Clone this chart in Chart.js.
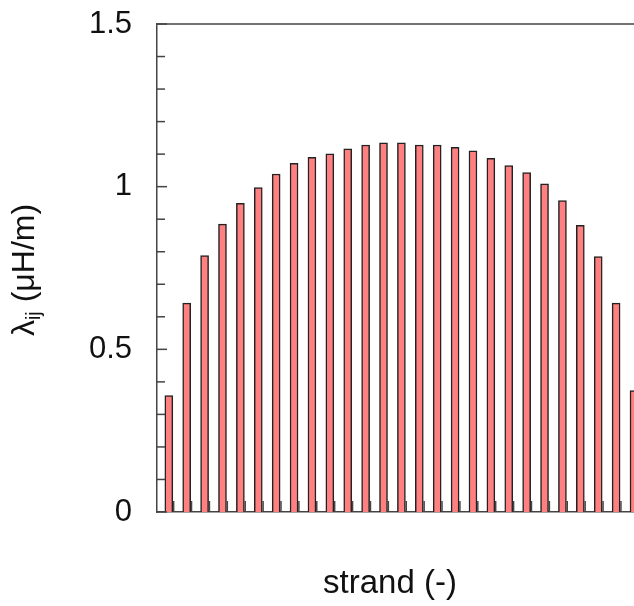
<!DOCTYPE html>
<html>
<head>
<meta charset="utf-8">
<script src="https://cdn.jsdelivr.net/npm/chart.js@4/dist/chart.umd.min.js"></script>
<style>
html,body{margin:0;padding:0;background:#fff;}
canvas{display:block;}
</style>
</head>
<body>
<canvas id="c" width="634" height="606"></canvas>
<script>
// strand index (categories)
const strands = [1,2,3,4,5,6,7,8,9,10,11,12,13,14,15,16,17,18,19,20,21,22,23,24,25,26,27];
// self inductance lambda_ij (uH/m)
const lambda = [0.358,0.642,0.788,0.885,0.949,0.997,1.039,1.072,1.090,1.101,1.116,1.128,1.135,1.135,
                1.128,1.128,1.121,1.110,1.087,1.065,1.043,1.009,0.957,0.881,0.785,0.642,0.373];
const yMajorTicks = [0, 0.5, 1, 1.5];
const yTickLabels = ['0', '0.5', '1', '1.5'];
const xTitle = 'strand (-)';
const yTitleMain = '\u03BB';
const yTitleSub = 'ij';
const yTitleRest = ' (\u03BCH/m)';

const FONT = '"Liberation Sans", Arial, sans-serif';
const AXIS = '#444';

const decor = {
  id: 'decor',
  afterDraw(chart) {
    const ctx = chart.ctx;
    const a = chart.chartArea;
    const xs = chart.scales.x, ys = chart.scales.y;
    ctx.save();
    ctx.strokeStyle = AXIS;
    ctx.lineWidth = 1.5;
    // top frame line
    ctx.beginPath();
    ctx.moveTo(a.left, a.top);
    ctx.lineTo(a.right, a.top);
    ctx.stroke();
    // y ticks (inward)
    ys.ticks.forEach(t => {
      const y = ys.getPixelForValue(t.value);
      const major = yMajorTicks.some(m => Math.abs(m - t.value) < 1e-6);
      const len = major ? 10 : 8;
      ctx.beginPath();
      ctx.moveTo(a.left, y);
      ctx.lineTo(a.left + len, y);
      ctx.stroke();
    });
    // x ticks (inward, from bottom)
    strands.forEach(n => {
      const x = xs.getPixelForValue(n + 0.27);
      ctx.beginPath();
      ctx.moveTo(x, a.bottom);
      ctx.lineTo(x, a.bottom - 11);
      ctx.stroke();
    });
    // x title
    ctx.fillStyle = '#111';
    ctx.font = '33px ' + FONT;
    ctx.textAlign = 'center';
    ctx.textBaseline = 'alphabetic';
    ctx.fillText(xTitle, 390, 593);
    // y title (rotated, with subscript)
    const mainF = '32px ' + FONT, subF = '20px ' + FONT;
    ctx.font = mainF; const w1 = ctx.measureText(yTitleMain).width;
    const w3 = ctx.measureText(yTitleRest).width;
    ctx.font = subF; const w2 = ctx.measureText(yTitleSub).width;
    const total = w1 + w2 + w3;
    ctx.translate(34, 270);
    ctx.rotate(-Math.PI / 2);
    ctx.textAlign = 'left';
    let x0 = -total / 2;
    ctx.font = mainF; ctx.fillText(yTitleMain, x0, 0); x0 += w1;
    ctx.font = subF; ctx.fillText(yTitleSub, x0, 6); x0 += w2;
    ctx.font = mainF; ctx.fillText(yTitleRest, x0, 0);
    ctx.restore();
  }
};

new Chart(document.getElementById('c'), {
  type: 'bar',
  data: {
    datasets: [{
      data: strands.map((s, i) => ({x: s, y: lambda[i]})),
      backgroundColor: '#FF8080',
      borderColor: '#222',
      borderWidth: 1.5,
      barThickness: 8
    }]
  },
  options: {
    responsive: false,
    animation: false,
    devicePixelRatio: 1,
    layout: {padding: {top: 24, right: 0, bottom: 0, left: 0}},
    plugins: {legend: {display: false}, tooltip: {enabled: false}},
    scales: {
      x: {
        type: 'linear',
        offset: false,
        min: 0.34,
        max: 27.0,
        ticks: {display: false},
        grid: {display: false, drawTicks: false, offset: false},
        border: {display: true, color: AXIS, width: 1.5},
        afterFit(s) { s.height = 94; s.paddingLeft = 0; s.paddingRight = 0; }
      },
      y: {
        min: 0,
        max: 1.5,
        ticks: {
          stepSize: 0.1,
          autoSkip: false,
          padding: 25,
          color: '#111',
          font: {family: FONT, size: 31},
          callback(v) {
            const i = yMajorTicks.findIndex(m => Math.abs(m - v) < 1e-6);
            return i >= 0 ? yTickLabels[i] : '';
          }
        },
        grid: {display: false, drawTicks: false},
        border: {display: true, color: AXIS, width: 1.5},
        afterFit(s) { s.width = 157; s.paddingTop = 0; s.paddingBottom = 0; }
      }
    }
  },
  plugins: [decor]
});
</script>
</body>
</html>
